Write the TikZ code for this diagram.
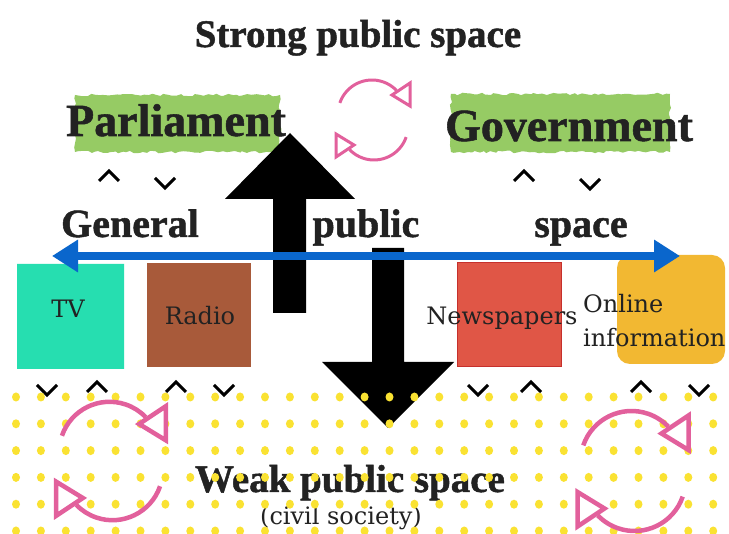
\documentclass[tikz,border=0pt]{standalone}
\usepackage{fontspec}
\usetikzlibrary{arrows.meta,shapes.misc,decorations.pathmorphing}
\newfontfamily\headfont[FakeBold=1.2]{Liberation Serif Bold}
\newfontfamily\bodyfont{DejaVu Serif}

\definecolor{ink}{RGB}{34,34,34}
\definecolor{hlgreen}{RGB}{150,203,100}
\definecolor{tvgreen}{RGB}{38,222,176}
\definecolor{radiobrown}{RGB}{168,90,58}
\definecolor{newsred}{RGB}{224,86,70}
\definecolor{newsedge}{RGB}{198,48,44}
\definecolor{onlinegold}{RGB}{242,184,50}
\definecolor{linkblue}{RGB}{10,102,204}
\definecolor{cyclepink}{RGB}{226,96,156}
\definecolor{dotyellow}{RGB}{250,226,50}

\tikzset{
  headbig/.style={font=\headfont\fontsize{46}{50}\selectfont, text=ink, inner sep=0pt, anchor=base},
  headmid/.style={font=\headfont\fontsize{40}{44}\selectfont, text=ink, inner sep=0pt, anchor=base},
  headsmall/.style={font=\headfont\fontsize{39}{44}\selectfont, text=ink, inner sep=0pt, anchor=base},
  label/.style={font=\bodyfont\fontsize{24}{28}\selectfont, text=ink, inner sep=0pt, anchor=base},
  highlight/.style={fill=hlgreen, decorate,
    decoration={random steps, segment length=4pt, amplitude=1.3pt}},
  mediabox/.style={inner sep=0pt, outer sep=0pt},
  bigarrow/.style={fill=black},
  chev/.style={draw=black, line width=3pt, line join=miter, line cap=butt},
  cyc/.style={draw=cyclepink, line join=miter},
  pics/caretup/.style={code={\draw[chev] (-10,5) -- (0,-5) -- (10,5);}},
  pics/caretdown/.style={code={\draw[chev] (-10,-5) -- (0,5) -- (10,-5);}},
  pics/cycle/.style={code={
    \foreach \r in {0,180}{
      \begin{scope}[rotate=\r]
        \draw[cyc] (-1,-6) ++(199:34) arc[start angle=199, end angle=316, radius=34];
        \filldraw[cyc, fill=white] (37,-37) -- (37,-14) -- (19,-25) -- cycle;
      \end{scope}
    }
  }},
}

\begin{document}
\begin{tikzpicture}[x=1pt, y=-1pt]
  \useasboundingbox[fill=white] (0,0) rectangle (729,534);

  % green marker strokes behind the two institutions
  \fill[highlight] (75,95) rectangle (280,152);
  \fill[highlight] (451,94) rectangle (670,152);

  % media boxes
  \node[mediabox, chamfered rectangle, chamfered rectangle xsep=6pt,
        chamfered rectangle ysep=6pt, fill=tvgreen,
        minimum width=107pt, minimum height=105pt] (tvbox) at (70.5,316.5) {};
  \node[mediabox, rectangle, fill=radiobrown,
        minimum width=104pt, minimum height=104pt] (radiobox) at (199,315) {};
  \node[mediabox, rectangle, fill=newsred, draw=newsedge, line width=1.5pt,
        minimum width=104pt, minimum height=104pt] (newsbox) at (509.5,314.5) {};
  \node[mediabox, rectangle, rounded corners=13pt, fill=onlinegold,
        minimum width=108pt, minimum height=109pt] (onlinebox) at (671,309.5) {};

  % big upward and downward arrows
  \fill[bigarrow] (273,313) -- (273,199) -- (225,199) -- (290,133)
                 -- (355,199) -- (306,199) -- (306,313) -- cycle;
  \fill[bigarrow] (372,248) -- (372,362) -- (322,362) -- (388,428)
                 -- (454,362) -- (404,362) -- (404,248) -- cycle;

  % general public space axis
  \coordinate (axisleft) at (52,256);
  \coordinate (axisright) at (680,256);
  \draw[linkblue, line width=8pt,
        {Triangle[length=26pt, width=31pt]}-{Triangle[length=26pt, width=31pt]}]
        (axisleft) -- (axisright);

  % headings
  \node[headsmall] (strong) at (358,47) {Strong public space};
  \node[headbig] (parliament) at (176,136) {Parliament};
  \node[headbig] (government) at (569,141) {Government};
  \node[headmid] (general) at (130,237) {General};
  \node[headmid] (public) at (366,237) {public};
  \node[headmid] (space) at (581,237) {space};
  \node[headsmall] (weak) at (350,492) {Weak public space};

  % media labels
  \node[label] (tv) at (68,318) {TV};
  \node[label] (radio) at (200,325) {Radio};
  \node[label] (news) at (502,325) {Newspapers};
  \node[label, anchor=base west] (online) at (583,313) {Online};
  \node[label, anchor=base west] (information) at (583,347) {information};
  \node[label] (civil) at (341,525) {(civil society)};

  % up/down chevrons
  \pic at (109,176) {caretup};
  \pic at (165,183) {caretdown};
  \pic at (524,176) {caretup};
  \pic at (590,184) {caretdown};
  \pic at (47,390) {caretdown};
  \pic at (97,387) {caretup};
  \pic at (176,387) {caretup};
  \pic at (224,390) {caretdown};
  \pic at (478,390) {caretdown};
  \pic at (531,387) {caretup};
  \pic at (641,387) {caretup};
  \pic at (699,390) {caretdown};

  % dotted field of civil society
  \foreach \j in {0,...,5}{
    \foreach \k in {0,...,28}{
      \fill[dotyellow] ({16+24.9*\k},{397+26.8*\j}) ellipse[x radius=4, y radius=4.5];
    }
  }

  % exchange cycles
  \pic[line width=3pt] at (373,120) {cycle};
  \pic[scale=1.48, line width=4.5pt] at (111,461) {cycle};
  \pic[scale=1.5, line width=4.5pt] at (633,471) {cycle};
\end{tikzpicture}
\end{document}
